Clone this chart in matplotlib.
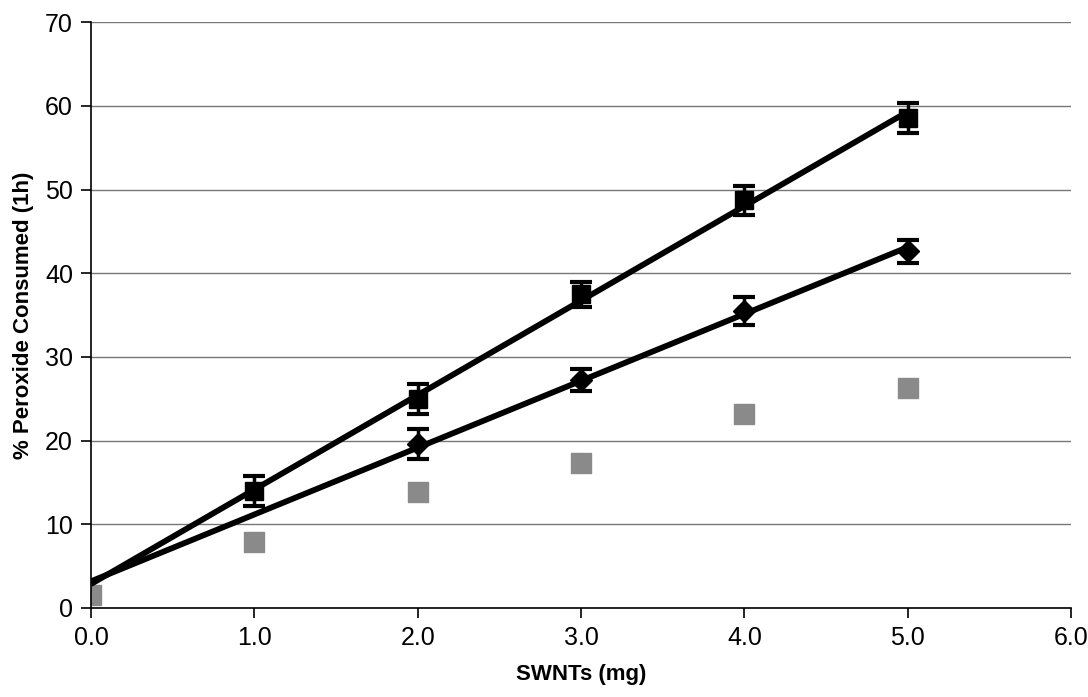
import numpy as np
import matplotlib
matplotlib.use("Agg")
import matplotlib.pyplot as plt

plt.rcParams['font.family'] = ['Liberation Sans', 'DejaVu Sans']

# SWNT mass (mg)
swnt = [0.0, 1.0, 2.0, 3.0, 4.0, 5.0]

# black squares with error bars
sq_vals = [2.8, 14.0, 25.0, 37.5, 48.7, 58.5]
sq_err = [0.0, 1.8, 1.8, 1.5, 1.7, 1.8]

# black diamonds with error bars
dia_vals = [2.8, 11.2, 19.6, 27.2, 35.5, 42.6]
dia_err = [0.0, 0.0, 1.8, 1.3, 1.7, 1.4]

# grey squares, no error bars
grey_vals = [1.6, 7.9, 13.9, 17.3, 23.2, 26.3]

fig = plt.figure(figsize=(10.88, 6.97), dpi=100)
ax = fig.add_axes([0.0836, 0.1277, 0.9008, 0.8405])

x = np.array(swnt)
xfit = np.array([0.0, 5.0])

# linear trend lines
for vals in (sq_vals, dia_vals):
    k, b = np.polyfit(x, vals, 1)
    ax.plot(xfit, k * xfit + b, color='black', lw=4.2, zorder=3, solid_capstyle='butt')

ax.scatter(x, grey_vals, marker='s', s=190, color='#8a8a8a', zorder=2)

ax.errorbar(x[2:], dia_vals[2:], yerr=dia_err[2:], fmt='D', ms=11, color='black',
            ecolor='black', elinewidth=2.5, capsize=8, capthick=3, zorder=4)
ax.errorbar(x[1:], sq_vals[1:], yerr=sq_err[1:], fmt='s', ms=13, color='black',
            ecolor='black', elinewidth=2.5, capsize=8, capthick=3, zorder=5)

ax.set_xlim(0, 6)
ax.set_ylim(0, 70)
ax.set_xticks(np.arange(0, 6.1, 1.0))
ax.set_xticklabels(['%.1f' % v for v in np.arange(0, 6.1, 1.0)])
ax.set_yticks(range(0, 71, 10))
ax.yaxis.grid(True, color='#777777', lw=1)
ax.set_axisbelow(True)

for s in ('top', 'right'):
    ax.spines[s].set_visible(False)
ax.spines['left'].set_linewidth(1.2)
ax.spines['bottom'].set_linewidth(1.2)
ax.tick_params(direction='out', length=7, width=1.2, labelsize=18, pad=6)

ax.set_xlabel('SWNTs (mg)', fontsize=16, fontweight='bold', labelpad=10)
ax.set_ylabel('% Peroxide Consumed (1h)', fontsize=16, fontweight='bold', labelpad=8)

fig.savefig('out.png', dpi=100)
